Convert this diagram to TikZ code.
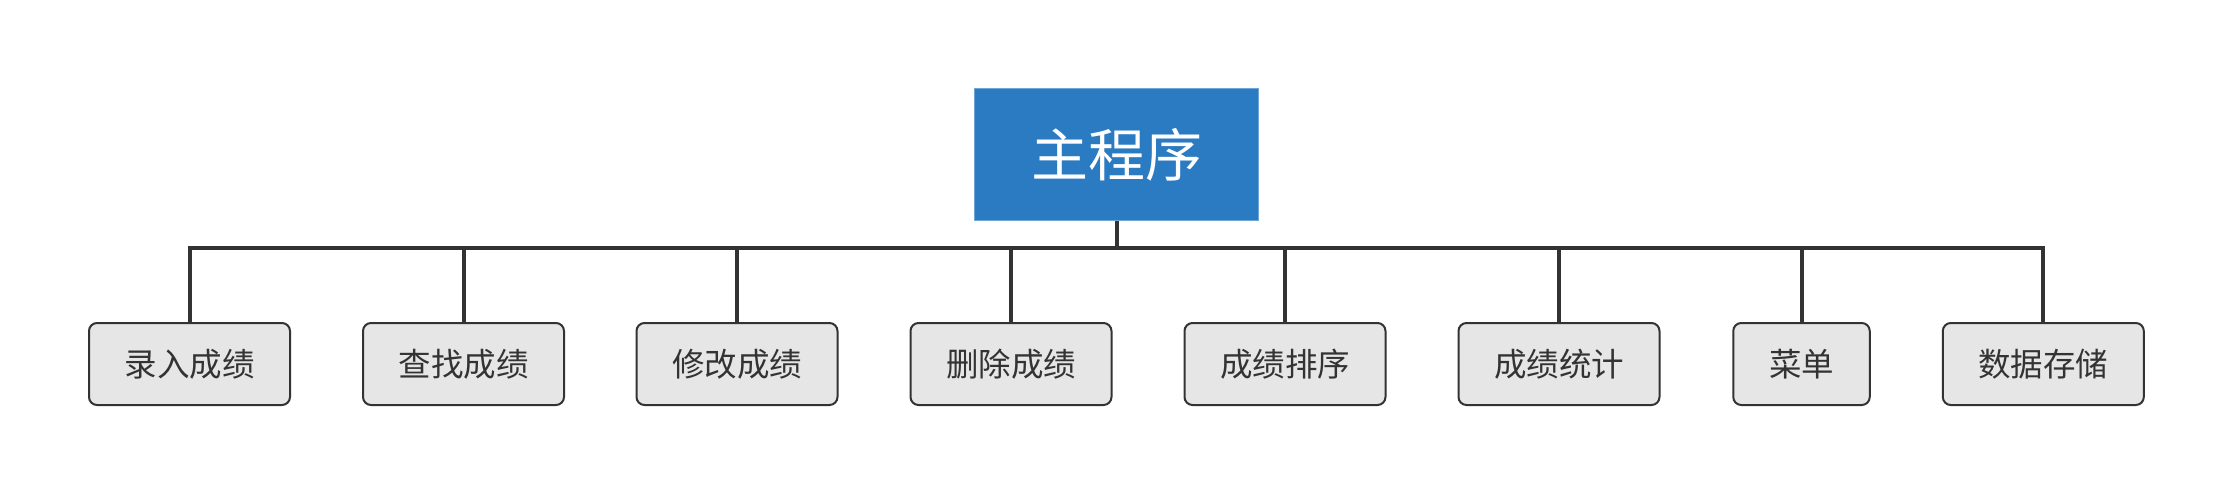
\documentclass[tikz,border=0pt]{standalone}
\usepackage{fontspec}
\newfontfamily\cjk{Noto Sans CJK SC}
\definecolor{linec}{HTML}{333333}
\definecolor{leaffill}{HTML}{E6E6E6}
\definecolor{rootfill}{HTML}{2B7BC3}
\definecolor{rootline}{HTML}{6FA6D8}
\begin{document}
\begin{tikzpicture}[x=1pt,y=-1pt,
  leaf/.style={draw=linec, line width=2pt, fill=leaffill, rounded corners=8pt,
    minimum height=82pt, minimum width=201pt, inner sep=0pt,
    font=\cjk\fontsize{32.5}{38}\selectfont, text=linec},
  root/.style={draw=rootline, line width=1pt, fill=rootfill, minimum width=284pt,
    minimum height=132pt, inner sep=0pt, font=\cjk\fontsize{57}{64}\selectfont, text=white},
  conn/.style={draw=linec, line width=4pt}]
\useasboundingbox (0,0) rectangle (2233,495);
\node[root] (root) at (1116.5,154.5) {主程序};
\coordinate (bus) at (1116.5,247.5);
\node[leaf] (l1) at (189.5,364) {录入成绩};
\node[leaf] (l2) at (463.5,364) {查找成绩};
\node[leaf] (l3) at (737,364) {修改成绩};
\node[leaf] (l4) at (1011,364) {删除成绩};
\node[leaf] (l5) at (1285,364) {成绩排序};
\node[leaf] (l6) at (1559,364) {成绩统计};
\node[leaf, minimum width=136.5pt] (l7) at (1801.5,364) {菜单};
\node[leaf] (l8) at (2043.3,364) {数据存储};
\draw[conn] (root.south) -- (bus);
\draw[conn] (l1.north) |- (bus) -| (l8.north);
\foreach \n in {l2,l3,l4,l5,l6,l7}{
  \draw[conn] (\n.north) -- (\n.north |- bus);
}
\end{tikzpicture}
\end{document}
